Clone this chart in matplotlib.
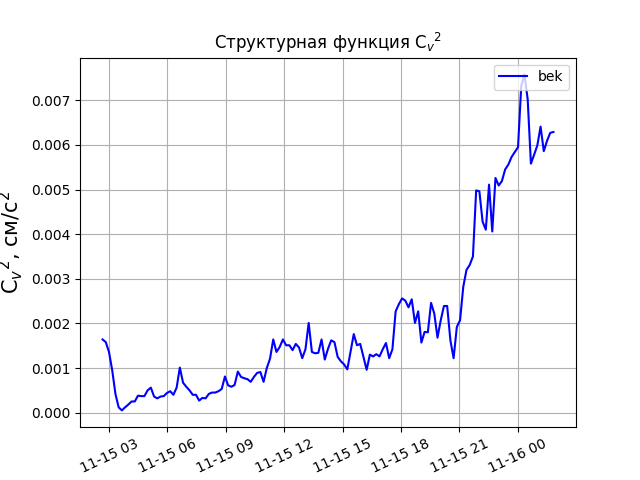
import pandas as pd
import matplotlib.pyplot as plt
import matplotlib.dates as mdates

# значения C_v^2 (в единицах 1e-3 см^2/с^2), шаг 10 минут
cv2_e3 = [
    1.64, 1.58, 1.36, 0.95, 0.42, 0.12, 0.05, 0.12, 0.18, 0.25,
    0.25, 0.38, 0.37, 0.37, 0.50, 0.56, 0.36, 0.32, 0.36, 0.37,
    0.44, 0.48, 0.40, 0.56, 1.01, 0.67, 0.58, 0.50, 0.40, 0.40,
    0.27, 0.33, 0.32, 0.42, 0.45, 0.45, 0.48, 0.53, 0.81, 0.61,
    0.58, 0.62, 0.92, 0.80, 0.77, 0.75, 0.69, 0.80, 0.89, 0.91,
    0.69, 1.00, 1.21, 1.64, 1.36, 1.47, 1.64, 1.51, 1.51, 1.40,
    1.54, 1.46, 1.22, 1.42, 2.01, 1.36, 1.33, 1.34, 1.64, 1.19,
    1.43, 1.62, 1.58, 1.25, 1.15, 1.08, 0.97, 1.36, 1.76, 1.51,
    1.54, 1.25, 0.96, 1.30, 1.26, 1.31, 1.26, 1.42, 1.56, 1.22,
    1.42, 2.27, 2.43, 2.56, 2.51, 2.36, 2.54, 2.01, 2.27, 1.57,
    1.81, 1.80, 2.46, 2.22, 1.68, 2.07, 2.39, 2.39, 1.62, 1.22,
    1.92, 2.07, 2.82, 3.20, 3.31, 3.50, 4.98, 4.96, 4.28, 4.10,
    5.11, 4.06, 5.26, 5.09, 5.19, 5.45, 5.56, 5.73, 5.84, 5.95,
    7.32, 7.58, 7.02, 5.58, 5.78, 5.99, 6.41, 5.86, 6.09, 6.27,
    6.29,
]
cv2 = [v * 1e-3 for v in cv2_e3]
t_start = "2020-11-15 02:40"
t_end = "2020-11-16 01:50"
times = pd.date_range(t_start, t_end, periods=len(cv2))

fig, ax = plt.subplots(figsize=(6.4, 4.8), dpi=100)
ax.plot(times, cv2, color="blue", linewidth=1.5, label="bek")
ax.set_title("Структурная функция C$_v$$^2$")
ax.set_ylabel("C$_v$$^2$, см/с$^2$", fontsize=15)
ax.xaxis.set_major_locator(mdates.HourLocator(byhour=range(0, 24, 3)))
ax.xaxis.set_major_formatter(mdates.DateFormatter("%m-%d %H"))
plt.xticks(rotation=25)
ax.grid(True)
ax.legend(loc="upper right")
fig.savefig("out.png")
